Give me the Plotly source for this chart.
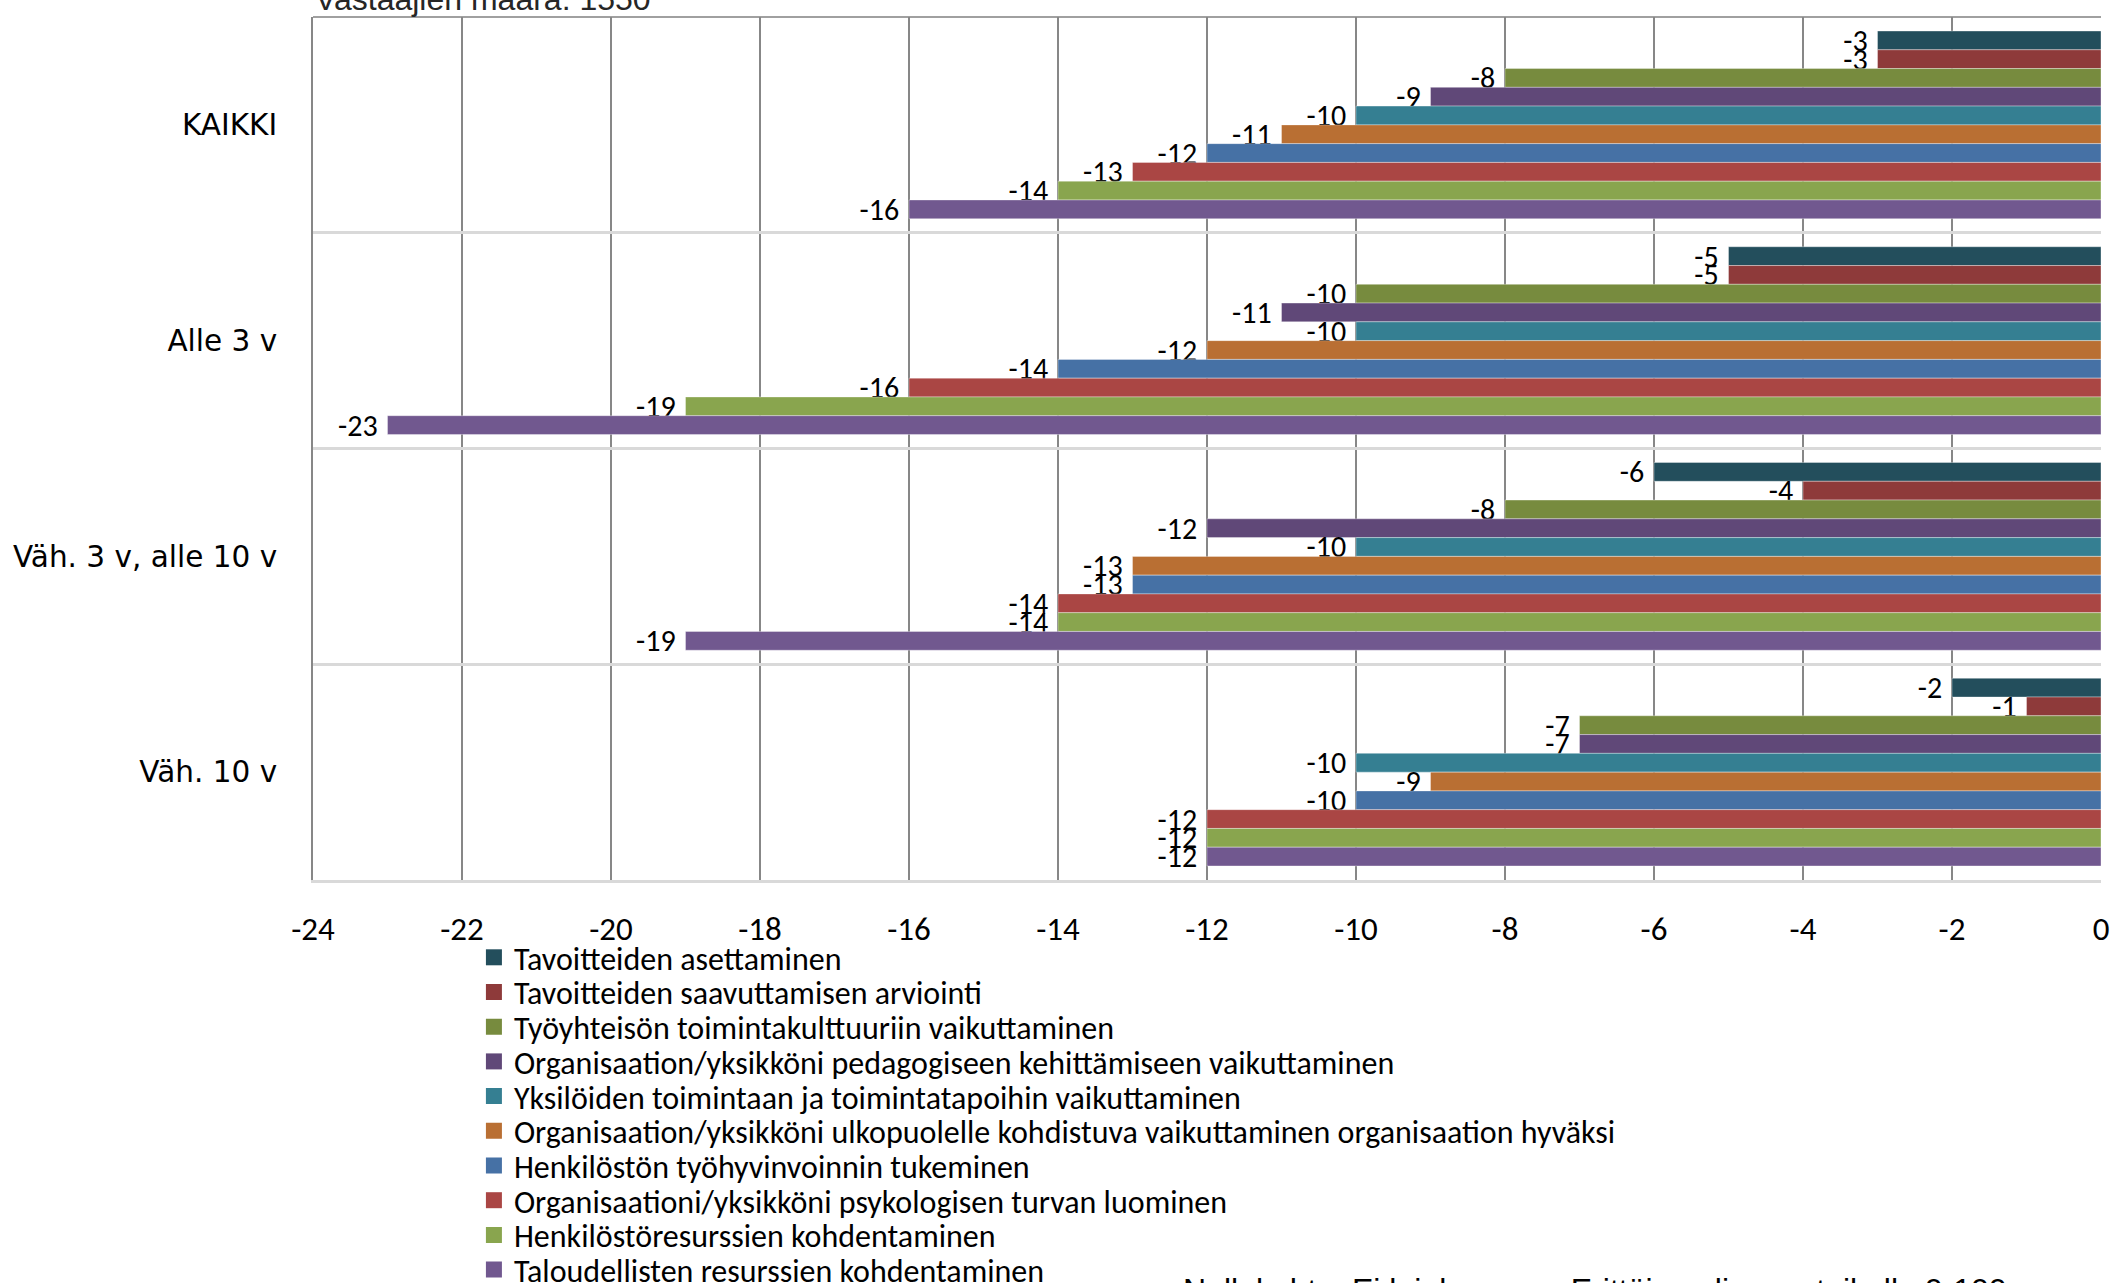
import plotly.graph_objects as go

categories = ["KAIKKI", "Alle 3 v", "Väh. 3 v, alle 10 v", "Väh. 10 v"]

series_names = [
    "Tavoitteiden asettaminen",
    "Tavoitteiden saavuttamisen arviointi",
    "Työyhteisön toimintakulttuuriin vaikuttaminen",
    "Organisaation/yksikköni pedagogiseen kehittämiseen vaikuttaminen",
    "Yksilöiden toimintaan ja toimintatapoihin vaikuttaminen",
    "Organisaation/yksikköni ulkopuolelle kohdistuva vaikuttaminen organisaation hyväksi",
    "Henkilöstön työhyvinvoinnin tukeminen",
    "Organisaationi/yksikköni psykologisen turvan luominen",
    "Henkilöstöresurssien kohdentaminen",
    "Taloudellisten resurssien kohdentaminen",
]

# values per series, in category order
tavoitteiden_asettaminen = [-3, -5, -6, -2]
tavoitteiden_arviointi = [-3, -5, -4, -1]
toimintakulttuuri = [-8, -10, -8, -7]
pedagoginen = [-9, -11, -12, -7]
yksiloiden_toiminta = [-10, -10, -10, -10]
ulkopuolelle = [-11, -12, -13, -9]
tyohyvinvointi = [-12, -14, -13, -10]
psykologinen_turva = [-13, -16, -14, -12]
henkilostoresurssit = [-14, -19, -14, -12]
taloudelliset = [-16, -23, -19, -12]

series_values = [
    tavoitteiden_asettaminen, tavoitteiden_arviointi, toimintakulttuuri,
    pedagoginen, yksiloiden_toiminta, ulkopuolelle, tyohyvinvointi,
    psykologinen_turva, henkilostoresurssit, taloudelliset,
]

colors = ["#234E5C", "#8E3A3A", "#778B3E", "#604878", "#357F92",
          "#B96F33", "#4671A5", "#AA4644", "#89A54E", "#71588F"]

x_ticks = list(range(-24, 1, 2))

CAL = "Carlito, Calibri, Lato, sans-serif"

# plot area geometry (pixels)
PLOT_TOP, PLOT_BOTTOM = 17, 880
PLOT_H = PLOT_BOTTOM - PLOT_TOP


def py(pixel_y):
    return (PLOT_BOTTOM - pixel_y) / PLOT_H


fig = go.Figure()
for name, vals, col in zip(series_names, series_values, colors):
    fig.add_trace(go.Bar(
        y=categories, x=vals, orientation="h", name=name,
        marker=dict(color=col, line=dict(color="rgba(255,255,255,0.35)", width=1)),
        text=[str(v) for v in vals], texttemplate="%{text}\u00a0",
        textposition="outside", constraintext="none", cliponaxis=False,
        textfont=dict(family=CAL, size=30, color="black"),
        showlegend=False, hoverinfo="x+name",
    ))

legend_layouts = {}
for i, (name, col) in enumerate(zip(series_names, colors)):
    key = "legend" if i == 0 else f"legend{i + 1}"
    fig.add_trace(go.Scatter(
        x=[None], y=[None], mode="markers", name=name,
        marker=dict(symbol="square", size=18, color=col),
        showlegend=True, legend=key,
    ))
    legend_layouts[key] = dict(
        x=0.090, y=py(957.5 + i * 34.7), xanchor="left", yanchor="middle",
        font=dict(family=CAL, size=32, color="black"),
        bgcolor="rgba(0,0,0,0)", borderwidth=0,
    )

fig.update_layout(
    width=2127, height=1283,
    margin=dict(l=313, r=26, t=PLOT_TOP, b=1283 - PLOT_BOTTOM, pad=0, autoexpand=False),
    paper_bgcolor="white", plot_bgcolor="white",
    barmode="group", bargap=0.13, bargroupgap=0,
    font=dict(family=CAL, color="black"),
    annotations=[
        dict(text="Vastaajien määrä: 1550", xref="paper", yref="paper",
             x=0, y=py(-1), xanchor="left", yanchor="middle", showarrow=False,
             font=dict(family="Liberation Sans, Arial", size=32, color="#262626")),
        dict(text="Nollakohta: Ei lainkaan ...   Erittäin paljon, asteikolla 0-100",
             xref="paper", yref="paper", x=(1181 - 313) / 1788, y=py(1270),
             xanchor="left", yanchor="top", showarrow=False,
             font=dict(family="Liberation Sans, Arial", size=32, color="black")),
    ],
    **legend_layouts,
)
fig.update_xaxes(
    range=[-24, 0], tickvals=x_ticks, ticktext=[str(v) for v in x_ticks],
    showgrid=True, gridcolor="#878787", gridwidth=2,
    zeroline=False, showline=True, linecolor="#d9d9d9", linewidth=3, mirror=False,
    ticks="", tickfont=dict(family=CAL, size=33, color="black"),
    ticklabelstandoff=17,
)
fig.update_yaxes(
    categoryorder="array", categoryarray=categories, autorange="reversed",
    tickson="boundaries", showgrid=True, gridcolor="#d9d9d9", gridwidth=3,
    showline=True, linecolor="#878787", linewidth=2, ticks="",
    tickfont=dict(family="Verdana, DejaVu Sans, sans-serif", size=29.5, color="black"),
    ticklabelstandoff=28, zeroline=False,
)
fig.add_shape(type="line", xref="paper", yref="paper", x0=0, x1=1, y0=1, y1=1,
              line=dict(color="#a0a0a0", width=2), layer="below")

fig.write_html("out.html", config={"displayModeBar": False},
               post_script="document.body.style.margin='0';document.body.style.overflow='hidden';")
